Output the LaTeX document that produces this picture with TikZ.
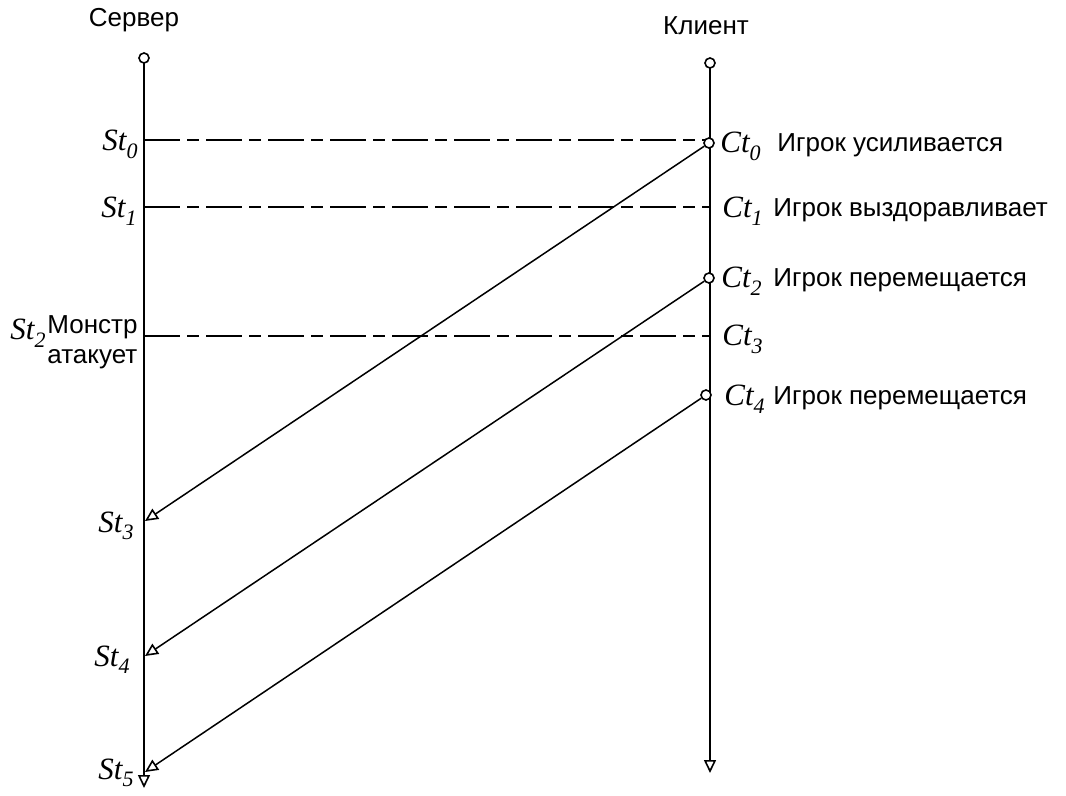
\documentclass[tikz,border=0pt]{standalone}
\usepackage{fontspec}
\setmainfont{Liberation Serif}
\setsansfont{Liberation Sans}
\usetikzlibrary{arrows.meta}
\newcommand{\tlbl}[2]{{\fontsize{15.5}{17}\selectfont\itshape #1\raisebox{-0.5ex}{\fontsize{11}{12}\selectfont #2}}}
\begin{document}
\begin{tikzpicture}[x=0.5pt,y=-0.5pt,
  life/.style={line width=1pt,-{Triangle[open,length=6.5pt,width=6pt,line width=0.8pt]}},
  msg/.style={line width=0.75pt,-{Triangle[open,length=6.5pt,width=6pt,line width=0.8pt]}},
  sync/.style={line width=1.1pt,dash pattern=on 18pt off 3.5pt on 6pt off 3.5pt},
  dot/.style={circle,draw,fill=white,line width=0.8pt,inner sep=0pt,minimum size=5pt},
  sf/.style={font=\sffamily\fontsize{13}{15}\selectfont,inner sep=0pt},
  tl/.style={inner sep=0pt}]
\useasboundingbox (0,0) rectangle (1066,796);
% headers
\node[sf] (srv) at (134,20) {Сервер};
\node[sf] (cli) at (706,26) {Клиент};
% endpoints
\coordinate (Sbot) at (144,788);
\coordinate (Cbot) at (710,773);
\coordinate (S0) at (144,140);
\coordinate (S1) at (144,207);
\coordinate (S2) at (144,336);
\coordinate (C0d) at (710,140);
\coordinate (C1) at (710,207);
\coordinate (C3) at (710,336);
\coordinate (S3) at (145,521);
\coordinate (S4) at (145,656);
\coordinate (S5) at (145,772);
% lifelines
\draw[life] (144,58) -- (Sbot);
\draw[life] (710,63) -- (Cbot);
\node[dot] (stop) at (144,58) {};
\node[dot] (ctop) at (710,63) {};
% sync dashed lines
\draw[sync] (S0) -- (C0d);
\draw[sync] (S1) -- (C1);
\draw[sync] (S2) -- (C3);
% messages
\node[dot] (C0) at (709,143) {};
\node[dot] (C2) at (709,278) {};
\node[dot] (C4) at (706,395) {};
\draw[msg] (C0) -- (S3);
\draw[msg] (C2) -- (S4);
\draw[msg] (C4) -- (S5);
% server labels
\node[tl,anchor=base east] (lS0) at (138,151) {\tlbl{St}{0}};
\node[tl,anchor=base east] (lS1) at (137,218) {\tlbl{St}{1}};
\node[tl,anchor=base east] (lS2) at (46,340) {\tlbl{St}{2}};
\node[sf,anchor=base west] (mon) at (47,334) {Монстр};
\node[sf,anchor=base west] (atk) at (47,364) {атакует};
\node[tl,anchor=base east] (lS3) at (134,532) {\tlbl{St}{3}};
\node[tl,anchor=base east] (lS4) at (130,666) {\tlbl{St}{4}};
\node[tl,anchor=base east] (lS5) at (134,779) {\tlbl{St}{5}};
% client labels
\node[tl,anchor=base west] (lC0) at (720,153) {\tlbl{Ct}{0}};
\node[sf,anchor=base west] (tC0) at (777,152) {Игрок усиливается};
\node[tl,anchor=base west] (lC1) at (722,218) {\tlbl{Ct}{1}};
\node[sf,anchor=base west] (tC1) at (773,217) {Игрок выздоравливает};
\node[tl,anchor=base west] (lC2) at (721,288) {\tlbl{Ct}{2}};
\node[sf,anchor=base west] (tC2) at (773,287) {Игрок перемещается};
\node[tl,anchor=base west] (lC3) at (722,346) {\tlbl{Ct}{3}};
\node[tl,anchor=base west] (lC4) at (724,406) {\tlbl{Ct}{4}};
\node[sf,anchor=base west] (tC4) at (773,405) {Игрок перемещается};
\end{tikzpicture}
\end{document}
